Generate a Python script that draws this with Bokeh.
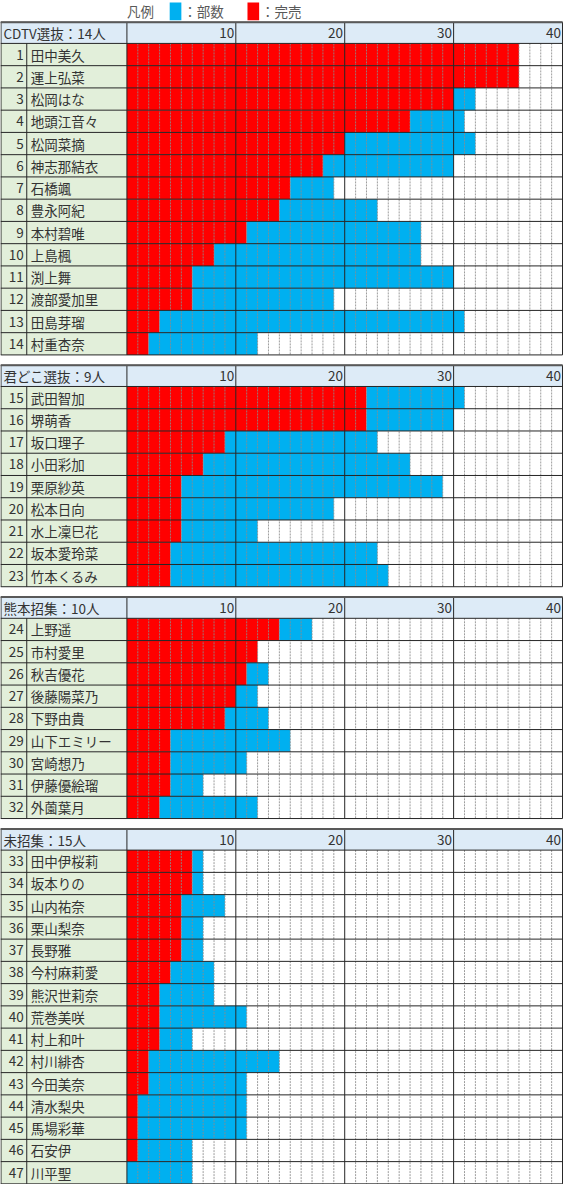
from bokeh.plotting import figure
from bokeh.models import Range1d, ColumnDataSource
from bokeh.core.properties import value
from bokeh.embed import file_html
from bokeh.resources import INLINE

# ---------------- data ----------------
group_titles = ["CDTV選抜：14人", "君どこ選抜：9人", "熊本招集：10人", "未招集：15人"]

names_cdtv = ["田中美久", "運上弘菜", "松岡はな", "地頭江音々", "松岡菜摘", "神志那結衣", "石橋颯",
              "豊永阿紀", "本村碧唯", "上島楓", "渕上舞", "渡部愛加里", "田島芽瑠", "村重杏奈"]
sold_cdtv = [36, 36, 30, 26, 20, 18, 15, 14, 11, 8, 6, 6, 3, 2]
parts_cdtv = [36, 36, 32, 31, 32, 30, 19, 23, 27, 27, 30, 19, 31, 12]

names_kimi = ["武田智加", "堺萌香", "坂口理子", "小田彩加", "栗原紗英", "松本日向", "水上凜巳花",
              "坂本愛玲菜", "竹本くるみ"]
sold_kimi = [22, 22, 9, 7, 5, 5, 5, 4, 4]
parts_kimi = [31, 30, 23, 26, 29, 19, 12, 23, 24]

names_kuma = ["上野遥", "市村愛里", "秋吉優花", "後藤陽菜乃", "下野由貴", "山下エミリー", "宮崎想乃",
              "伊藤優絵瑠", "外薗葉月"]
sold_kuma = [14, 12, 11, 10, 9, 4, 4, 4, 3]
parts_kuma = [17, 12, 13, 12, 13, 15, 11, 7, 12]

names_mi = ["田中伊桜莉", "坂本りの", "山内祐奈", "栗山梨奈", "長野雅", "今村麻莉愛", "熊沢世莉奈",
            "荒巻美咲", "村上和叶", "村川緋杏", "今田美奈", "清水梨央", "馬場彩華", "石安伊", "川平聖"]
sold_mi = [6, 6, 5, 5, 5, 4, 3, 3, 3, 2, 2, 1, 1, 1, 0]
parts_mi = [7, 7, 9, 7, 7, 8, 8, 11, 6, 14, 11, 11, 11, 6, 6]

tick_values = [10, 20, 30, 40]
tick_labels = ["10", "20", "30", "40"]
legend_labels = ["凡例", "：部数", "：完売"]

groups = [
    (group_titles[0], names_cdtv, sold_cdtv, parts_cdtv),
    (group_titles[1], names_kimi, sold_kimi, parts_kimi),
    (group_titles[2], names_kuma, sold_kuma, parts_kuma),
    (group_titles[3], names_mi, sold_mi, parts_mi),
]

# ---------------- layout / style ----------------
FONT = value("Noto Sans CJK JP")
FS = "13.5px"
TXT = "#333333"
RED = "#FF0000"
BLUE = "#00B0F0"
HEAD_BG = "#DDEBF7"
NAME_BG = "#E2EFDA"
GRID_DOT = "#8C8C8C"
LINE = "#262626"

REF_W, REF_H = 579, 1200
CELL_PX = 11.2
LEFT_PX = 130
LEGEND_H = 22
HEAD_H = 21.5
ROW_H = 22.55
GAP = 10.5
NCOL = 40


def px(v):
    return (v - LEFT_PX) / CELL_PX


p = figure(width=563, height=1184,
           x_range=Range1d(px(0), px(REF_W)), y_range=Range1d(REF_H, 0),
           output_backend="svg", toolbar_location=None,
           x_axis_type=None, y_axis_type=None, min_border=0,
           outline_line_color=None, background_fill_color="white",
           border_fill_color="white")
p.grid.visible = False

# ---------------- legend ----------------
p.text(x=[px(130)], y=[LEGEND_H / 2], text=[legend_labels[0]], text_font=FONT,
       text_font_size=FS, text_color="#595959", text_baseline="middle", text_align="left")
p.quad(left=[px(174)], right=[px(186)], top=[2], bottom=[20], fill_color=BLUE, line_color=None)
p.text(x=[px(188)], y=[LEGEND_H / 2], text=[legend_labels[1]], text_font=FONT,
       text_font_size=FS, text_color="#595959", text_baseline="middle", text_align="left")
p.quad(left=[px(254)], right=[px(266)], top=[2], bottom=[20], fill_color=RED, line_color=None)
p.text(x=[px(268)], y=[LEGEND_H / 2], text=[legend_labels[2]], text_font=FONT,
       text_font_size=FS, text_color="#595959", text_baseline="middle", text_align="left")

# ---------------- sections ----------------
y = LEGEND_H
num = 1
for title, names, sold, parts in groups:
    n = len(names)
    h_top = y
    h_bot = y + HEAD_H
    r_bot = h_bot + n * ROW_H

    # header
    p.quad(left=[px(0)], right=[NCOL], top=[h_top], bottom=[h_bot], fill_color=HEAD_BG, line_color=None)
    p.text(x=[px(3)], y=[(h_top + h_bot) / 2], text=[title], text_font=FONT, text_font_size=FS,
           text_color=TXT, text_baseline="middle", text_align="left")
    p.text(x=[t - 0.15 for t in tick_values], y=[(h_top + h_bot) / 2] * len(tick_values),
           text=tick_labels, text_font=FONT, text_font_size=FS, text_color=TXT,
           text_baseline="middle", text_align="right")

    tops = [h_bot + i * ROW_H for i in range(n)]
    bots = [t + ROW_H for t in tops]
    mids = [(a + b) / 2 for a, b in zip(tops, bots)]
    nums = [str(num + i) for i in range(n)]
    num += n

    src = ColumnDataSource(dict(top=tops, bottom=bots, mid=mids, name=names, num=nums,
                                sold=sold, parts=parts, zero=[0] * n))
    # label cells
    p.quad(left=px(0), right=0, top="top", bottom="bottom", source=src,
           fill_color=NAME_BG, line_color=None)
    # bars
    p.quad(left="zero", right="sold", top="top", bottom="bottom", source=src,
           fill_color=RED, line_color=None)
    p.quad(left="sold", right="parts", top="top", bottom="bottom", source=src,
           fill_color=BLUE, line_color=None)
    # texts
    p.text(x=px(24), y="mid", text="num", source=src, text_font=FONT, text_font_size=FS,
           text_color=TXT, text_baseline="middle", text_align="right")
    p.text(x=px(31), y="mid", text="name", source=src, text_font=FONT, text_font_size=FS,
           text_color=TXT, text_baseline="middle", text_align="left")

    # dotted cell separators
    dots = [k for k in range(1, NCOL) if k % 10 != 0]
    p.segment(x0=dots, y0=[h_bot] * len(dots), x1=dots, y1=[r_bot] * len(dots),
              line_color=GRID_DOT, line_alpha=0.85, line_width=1, line_dash="2 1")
    # solid block separators
    solid = [px(0.5), 0, 10, 20, 30, 40]
    p.segment(x0=solid, y0=[h_top] * len(solid), x1=solid, y1=[r_bot] * len(solid),
              line_color=LINE, line_width=1)
    p.segment(x0=[px(27)], y0=[h_bot], x1=[px(27)], y1=[r_bot], line_color=LINE, line_width=1)
    # horizontal lines
    hl = [h_top, h_bot] + bots
    p.segment(x0=[px(0)] * len(hl), y0=hl, x1=[NCOL] * len(hl), y1=hl,
              line_color=LINE, line_width=1)
    p.segment(x0=[px(0)], y0=[h_top], x1=[NCOL], y1=[h_top], line_color="#595959", line_width=2)

    y = r_bot + GAP

open("out.html", "w").write(file_html(p, INLINE))
